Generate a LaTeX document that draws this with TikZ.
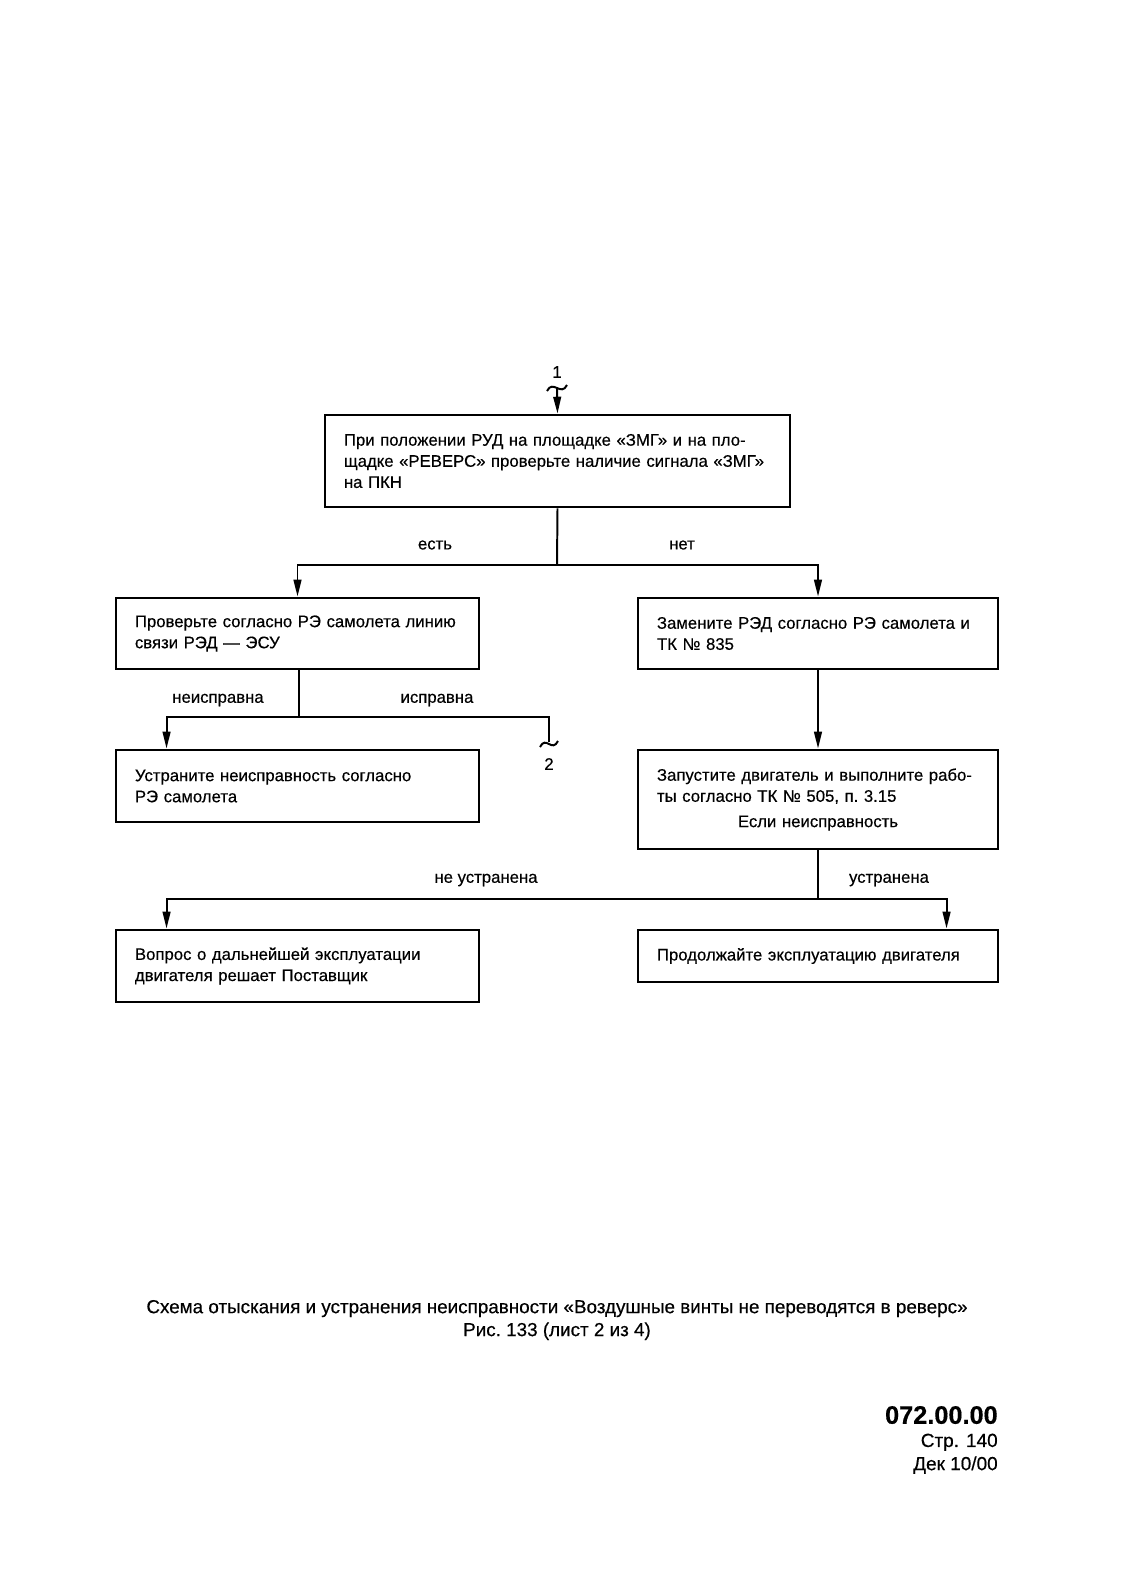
\documentclass[tikz,border=0pt]{standalone}
\usepackage{fontspec}
\setmainfont{Liberation Sans}[FakeBold=0.4]
\usetikzlibrary{arrows.meta,calc}

\tikzset{
  box/.style={draw, line width=2pt, inner xsep=0.475cm, inner ysep=0pt, align=left,
    font=\fontsize{11.9}{15}\selectfont},
  lbl/.style={inner sep=0pt, font=\fontsize{11.9}{15}\selectfont},
  wire/.style={line width=1.4pt},
  arr/.style={wire, -{Triangle[length=12pt,width=5.5pt]}},
}

\begin{document}
\begin{tikzpicture}[x=0.025cm, y=-0.025cm]
\useasboundingbox (0,0) rectangle (1133,1573);

% boxes
\node[box, text width=10.675cm, minimum height=2.3cm] (chk) at (557.5,461)
  {При положении РУД на площадке «ЗМГ» и на пло-\\щадке «РЕВЕРС» проверьте наличие сигнала «ЗМГ»\\на ПКН};
\node[box, text width=8.125cm, minimum height=1.775cm] (line) at (297.5,633.5)
  {Проверьте согласно РЭ самолета линию\\связи РЭД — ЭСУ};
\node[box, text width=8.05cm, minimum height=1.775cm] (repl) at (818,633.5)
  {Замените РЭД согласно РЭ самолета и\\ТК №~835};
\node[box, text width=8.125cm, minimum height=1.8cm] (fix) at (297.5,786)
  {Устраните неисправность согласно\\РЭ самолета};
\node[box, text width=8.05cm, minimum height=2.475cm] (run) at (818,799.5)
  {Запустите двигатель и выполните рабо-\\ты согласно ТК №~505, п.~3.15\\[3pt]\hbox to \hsize{\hfil Если неисправность\hfil}};
\node[box, text width=8.125cm, minimum height=1.8cm] (ask) at (297.5,966)
  {Вопрос о дальнейшей эксплуатации\\двигателя решает Поставщик};
\node[box, text width=8.05cm, minimum height=1.3cm] (cont) at (818,956)
  {Продолжайте эксплуатацию двигателя};

% entry 1
\coordinate (in1) at (557,388);
\node[lbl] (n1) at (557,372) {1};
\draw[wire] ($(in1)+(-10,3)$) .. controls ($(in1)+(-4,-9)$) and ($(in1)+(4,9)$) .. ($(in1)+(10,-3)$);
\draw[arr] (in1) -- (chk.north);

% split after check
\coordinate (j1) at (557,565);
\draw[wire] (chk.south) -- (j1);
\draw[arr] (j1) -| (line.north);
\draw[arr] (j1) -| (repl.north);
\node[lbl] (yes1) at (435,545) {есть};
\node[lbl] (no1) at (682,545) {нет};

% split after line check
\coordinate (j2) at (299,717);
\coordinate (out2) at (549,742);
\draw[wire] (line.south -| j2) -- (j2);
\draw[arr] (j2) -| ($(fix.north west)+(52,0)$);
\draw[wire] (j2) -| (out2);
\draw[wire] ($(out2)+(-9,5)$) .. controls ($(out2)+(-3,-7)$) and ($(out2)+(3,11)$) .. ($(out2)+(9,-1)$);
\node[lbl] (n2) at (549,764) {2};
\node[lbl] (bad) at (218,700) {неисправна};
\node[lbl] (good) at (437,700) {исправна};

% replace -> run
\draw[arr] (repl.south) -- (run.north);

% split after run
\coordinate (j3) at (818,899);
\draw[wire] (run.south) -- (j3);
\draw[arr] (j3) -| ($(ask.north west)+(52,0)$);
\draw[arr] (j3) -| ($(cont.north west)+(310,0)$);
\node[lbl] (notfixed) at (486,880) {не устранена};
\node[lbl] (fixed) at (889,880) {устранена};

% caption
\node[align=center, inner sep=0pt, font=\fontsize{13.4}{16.3}\selectfont] (cap) at (557,1320)
  {Схема отыскания и устранения неисправности «Воздушные винты не переводятся в реверс»\\Рис.~133 (лист 2 из 4)};
\node[align=right, inner sep=0pt, anchor=east, font=\fontsize{13.5}{16.5}\selectfont] (page) at (998,1440)
  {{\fontsize{18}{18}\selectfont\bfseries 072.00.00}\\Стр. 140\\Дек 10/00};
\end{tikzpicture}
\end{document}
